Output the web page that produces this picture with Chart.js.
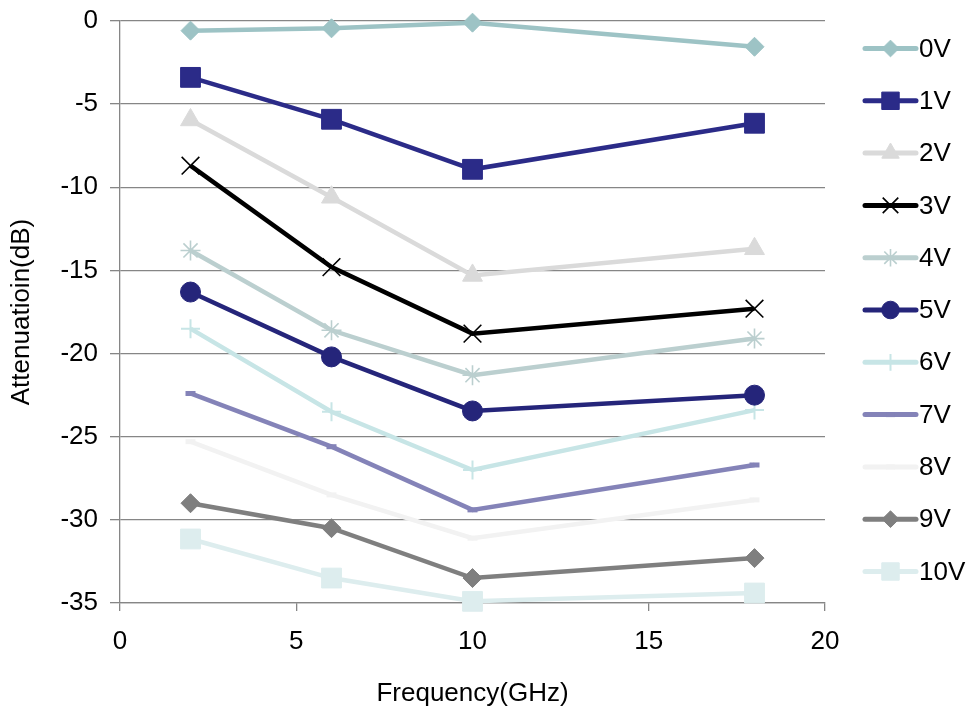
<!DOCTYPE html>
<html>
<head>
<meta charset="utf-8">
<script src="https://cdn.jsdelivr.net/npm/chart.js@4.4.1/dist/chart.umd.min.js"></script>
<style>
  html, body { margin: 0; padding: 0; background: #fff; }
  #wrap { width: 969px; height: 709px; }
</style>
</head>
<body>
<div id="wrap"><canvas id="attChart" width="969" height="709"></canvas></div>
<script>
var freq = [2, 6, 10, 18];
var seriesNames = ['0V', '1V', '2V', '3V', '4V', '5V', '6V', '7V', '8V', '9V', '10V'];
var v0 = [-0.58, -0.44, -0.1, -1.55];
var v1 = [-3.39, -5.91, -8.92, -6.15];
var v2 = [-5.95, -10.6, -15.3, -13.7];
var v3 = [-8.7, -14.8, -18.8, -17.3];
var v4 = [-13.8, -18.6, -21.3, -19.1];
var v5 = [-16.3, -20.2, -23.45, -22.5];
var v6 = [-18.5, -23.5, -27.0, -23.4];
var v7 = [-22.4, -25.6, -29.4, -26.7];
var v8 = [-25.3, -28.5, -31.1, -28.8];
var v9 = [-29.0, -30.5, -33.5, -32.3];
var v10 = [-31.15, -33.5, -34.9, -34.4];
var yTicks = [0, -5, -10, -15, -20, -25, -30, -35];
var xTicks = [0, 5, 10, 15, 20];

var values = [v0, v1, v2, v3, v4, v5, v6, v7, v8, v9, v10];
var colors = ['#9DC3C5', '#2B2B88', '#DADADA', '#000000', '#BBCFCF', '#25257A',
              '#C7E5E6', '#8483B8', '#F2F2F2', '#7F7F7F', '#DDEDEE'];
// marker style per series
var markers = [
    { style: 'rectRot', r: 9.5, bw: 1 },
    { style: 'rect', r: 14, bw: 1 },
    { style: 'triangle', r: 11.5, bw: 1 },
    { style: 'crossRot', r: 12.5, bw: 1.6 },
    { style: 'star', r: 10, bw: 1.6 },
    { style: 'circle', r: 10, bw: 1 },
    { style: 'cross', r: 9.5, bw: 2 },
    { style: 'line', r: 5, bw: 5 },
    { style: 'line', r: 5, bw: 5 },
    { style: 'rectRot', r: 9.5, bw: 1 },
    { style: 'rect', r: 14, bw: 1 }
];

var FONT = 'Liberation Sans, Arial, sans-serif';
var FSIZE = 26;
var GRID = '#868686';

var datasets = seriesNames.map(function (name, i) {
    return {
        label: name,
        data: freq.map(function (f, j) { return { x: f, y: values[i][j] }; }),
        borderColor: colors[i],
        backgroundColor: colors[i],
        borderWidth: 4.5,
        pointStyle: markers[i].style,
        pointRadius: markers[i].r,
        pointBorderWidth: markers[i].bw,
        pointBackgroundColor: colors[i],
        pointBorderColor: colors[i],
        tension: 0,
        clip: false
    };
});

var sideLegend = {
    id: 'sideLegend',
    afterDraw: function (chart) {
        var ctx = chart.ctx;
        ctx.save();
        chart.data.datasets.forEach(function (ds, i) {
            var y = 48.5 + i * 52.3;
            ctx.strokeStyle = ds.borderColor;
            ctx.fillStyle = ds.borderColor;
            ctx.lineWidth = 5;
            ctx.lineCap = 'round';
            ctx.beginPath();
            ctx.moveTo(865, y);
            ctx.lineTo(916, y);
            ctx.stroke();
            ctx.lineCap = 'butt';
            ctx.lineWidth = ds.pointBorderWidth;
            Chart.helpers.drawPoint(ctx, {
                pointStyle: ds.pointStyle,
                rotation: 0,
                radius: ds.pointRadius * 0.88,
                borderWidth: ds.pointBorderWidth
            }, 890.5, y);
            ctx.fillStyle = '#000';
            ctx.font = FSIZE + 'px ' + FONT;
            ctx.textAlign = 'left';
            ctx.textBaseline = 'middle';
            ctx.fillText(ds.label, 919, y + 1);
        });
        ctx.restore();
    }
};

document.addEventListener('DOMContentLoaded', function () {
    var ctx = document.getElementById('attChart').getContext('2d');
    new Chart(ctx, {
        type: 'line',
        data: { datasets: datasets },
        options: {
            responsive: false,
            animation: false,
            layout: { padding: { top: 21, right: 144, left: 0, bottom: 0 } },
            scales: {
                x: {
                    type: 'linear',
                    min: 0,
                    max: 20,
                    afterBuildTicks: function (scale) {
                        scale.ticks = xTicks.map(function (v) { return { value: v }; });
                    },
                    afterFit: function (scale) {
                        scale.height = 106;
                        scale.paddingLeft = 0;
                        scale.paddingRight = 0;
                    },
                    grid: {
                        drawOnChartArea: false,
                        drawTicks: true,
                        tickLength: 8,
                        color: GRID,
                        lineWidth: 1.3
                    },
                    border: { color: GRID, width: 1.3 },
                    ticks: {
                        color: '#000',
                        padding: 15,
                        font: { family: FONT, size: FSIZE }
                    },
                    title: {
                        display: true,
                        text: 'Frequency(GHz)',
                        color: '#000',
                        font: { family: FONT, size: FSIZE },
                        padding: { top: 0, bottom: 0 }
                    }
                },
                y: {
                    type: 'linear',
                    min: -35,
                    max: 0,
                    afterBuildTicks: function (scale) {
                        scale.ticks = yTicks.map(function (v) { return { value: v }; });
                    },
                    afterFit: function (scale) {
                        scale.width = 120;
                        scale.paddingTop = 0;
                        scale.paddingBottom = 0;
                    },
                    grid: {
                        drawTicks: true,
                        tickLength: 10,
                        color: GRID,
                        lineWidth: 1.3
                    },
                    border: { color: GRID, width: 1.3 },
                    ticks: {
                        color: '#000',
                        padding: 12,
                        font: { family: FONT, size: FSIZE }
                    },
                    title: {
                        display: true,
                        text: 'Attenuatioin(dB)',
                        color: '#000',
                        font: { family: FONT, size: FSIZE },
                        padding: { top: 6, bottom: 0 }
                    }
                }
            },
            plugins: {
                legend: { display: false },
                tooltip: { enabled: false }
            }
        },
        plugins: [sideLegend]
    });
});
</script>
</body>
</html>
